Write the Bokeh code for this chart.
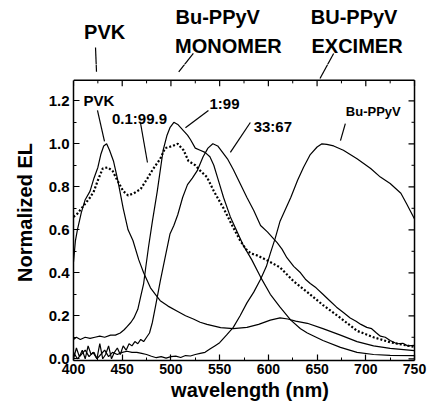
from bokeh.plotting import figure
from bokeh.layouts import column
from bokeh.models import (Range1d, FixedTicker, PrintfTickFormatter, Label, Arrow)
from bokeh.core.properties import value
from bokeh.embed import file_html
from bokeh.resources import INLINE

# ---- data (wavelength in nm, normalized EL) ----
pvk_wl = [400, 402, 404, 408, 412, 417, 421, 425, 428, 431, 434, 437, 441, 445, 448, 451, 456, 461,
          467, 472, 479, 484, 489, 497, 507, 515, 523, 530, 537, 551, 564, 578, 590, 602, 612, 620,
          628, 640, 656, 674, 691, 708, 725, 750]
pvk_el = [0.45, 0.55, 0.60, 0.68, 0.74, 0.78, 0.84, 0.89, 0.95, 0.99, 1.0, 0.97, 0.92, 0.84, 0.77,
          0.70, 0.60, 0.55, 0.46, 0.40, 0.33, 0.30, 0.27, 0.245, 0.22, 0.20, 0.185, 0.17, 0.16, 0.145,
          0.14, 0.146, 0.16, 0.18, 0.19, 0.185, 0.175, 0.165, 0.14, 0.11, 0.08, 0.06, 0.048, 0.038]

d_wl = [400, 404, 410, 417, 421, 425, 430, 435, 440, 445, 451, 456, 462, 469, 476, 482, 489, 494,
        502, 507, 513, 518, 525, 530, 537, 544, 554, 564, 571, 577, 582, 589, 599, 612, 626, 640,
        656, 674, 691, 708, 725, 750]
d_el = [0.66, 0.675, 0.71, 0.75, 0.78, 0.83, 0.885, 0.89, 0.875, 0.83, 0.78, 0.76, 0.77, 0.79, 0.84,
        0.885, 0.93, 0.98, 0.99, 1.0, 0.97, 0.92, 0.90, 0.875, 0.845, 0.78, 0.70, 0.61, 0.55, 0.51,
        0.49, 0.48, 0.457, 0.425, 0.36, 0.31, 0.25, 0.19, 0.13, 0.10, 0.077, 0.055]

o_wl = [400, 403, 407, 412, 417, 422, 427, 432, 438, 443, 448, 452, 455, 459, 462, 466, 469, 472,
        474, 477, 481, 486, 492, 496, 499, 503, 507, 510, 513, 517, 520, 525, 530, 535, 540, 544,
        548, 554, 561, 567, 574, 583, 592, 602, 612, 623, 633, 640, 656, 674, 691, 708, 725, 750]
o_el = [0.09, 0.10, 0.09, 0.10, 0.095, 0.10, 0.105, 0.10, 0.11, 0.11, 0.12, 0.135, 0.15, 0.17, 0.19,
        0.23, 0.29, 0.35, 0.42, 0.52, 0.64, 0.78, 0.97, 1.04, 1.075, 1.10, 1.09, 1.075, 1.06, 1.04,
        1.02, 0.98, 0.97, 0.96, 0.94, 0.90, 0.84, 0.75, 0.66, 0.60, 0.53, 0.46, 0.38, 0.30, 0.24,
        0.18, 0.14, 0.12, 0.085, 0.053, 0.03, 0.02, 0.016, 0.015]

t_wl = [400, 403, 406, 409, 412, 415, 418, 421, 424, 427, 430, 433, 436, 439, 442, 445, 448, 451,
        454, 457, 460, 463, 466, 469, 472, 475, 478, 481, 484, 489, 494, 499, 503, 507, 512, 517,
        522, 527, 533, 538, 543, 548, 553, 558, 564, 571, 578, 585, 592, 599, 605, 609, 614, 619,
        626, 633, 638, 643, 649, 656, 663, 670, 677, 684, 690, 695, 701, 706, 711, 715, 720, 725,
        732, 738, 743, 750]
t_el = [0.0, 0.05, 0.01, 0.04, 0.0, 0.06, 0.02, 0.03, 0.0, 0.07, 0.0, 0.02, 0.06, 0.0, 0.03, 0.05,
        0.02, 0.06, 0.04, 0.07, 0.06, 0.08, 0.07, 0.09, 0.08, 0.10, 0.12, 0.17, 0.24, 0.36, 0.47,
        0.58, 0.62, 0.67, 0.75, 0.81, 0.84, 0.875, 0.94, 0.98, 1.0, 0.99, 0.96, 0.93, 0.88, 0.815,
        0.75, 0.69, 0.62, 0.59, 0.56, 0.54, 0.51, 0.47, 0.43, 0.40, 0.37, 0.35, 0.33, 0.30, 0.27,
        0.24, 0.215, 0.19, 0.175, 0.16, 0.146, 0.14, 0.12, 0.105, 0.10, 0.085, 0.07, 0.072, 0.06,
        0.062]

b_wl = [400, 404, 408, 412, 416, 420, 424, 428, 432, 436, 440, 445, 450, 455, 460, 465, 470, 475,
        480, 485, 490, 495, 500, 505, 510, 515, 520, 525, 530, 535, 540, 545, 550, 557, 564, 571,
        578, 585, 592, 598, 602, 607, 612, 618, 623, 630, 636, 643, 650, 655, 660, 667, 677, 691,
        705, 715, 725, 736, 742, 750]
b_el = [0.03, 0.0, 0.02, 0.04, 0.01, 0.03, 0.0, 0.02, 0.04, 0.01, 0.03, 0.02, 0.03, 0.035, 0.03,
        0.03, 0.025, 0.02, 0.012, 0.005, 0.01, 0.003, 0.01, 0.012, 0.006, 0.015, 0.013, 0.02, 0.025,
        0.03, 0.045, 0.06, 0.075, 0.11, 0.146, 0.20, 0.26, 0.31, 0.37, 0.43, 0.49, 0.56, 0.64, 0.70,
        0.75, 0.83, 0.89, 0.95, 0.985, 1.0, 0.997, 0.99, 0.97, 0.93, 0.885, 0.845, 0.815, 0.77,
        0.72, 0.65]

# ticks
x_major = [400, 450, 500, 550, 600, 650, 700, 750]
x_minor = [425, 475, 525, 575, 625, 675, 725]
y_major = [0.0, 0.2, 0.4, 0.6, 0.8, 1.0, 1.2]
y_minor = [0.1, 0.3, 0.5, 0.7, 0.9, 1.1]

# inner labels: (text, x, y, pointer x0, y0, x1, y1)
inner_labels = [
    ("PVK", 426, 1.202, 424.6, 1.155, 431.8, 1.011),
    ("0.1:99.9", 467.7, 1.117, 468.7, 1.099, 475.9, 0.913),
    ("1:99", 555, 1.187, 538.5, 1.155, 514.9, 1.075),
    ("33:67", 604.6, 1.08, 581.5, 1.099, 561, 0.96),
]
bu_label = ("Bu-PPyV", 707.7, 1.15, 679, 1.094, 674, 1.015)

# peak assignment labels above the graph
top_texts = ["PVK", "Bu-PPyV", "MONOMER", "BU-PPyV", "EXCIMER"]
top_x = [432, 548, 559, 688, 691]
top_y = [1.518, 1.59, 1.457, 1.59, 1.457]
top_ptr_x0 = [422.6, 523, 667]
top_ptr_y0 = [1.448, 1.42, 1.42]
top_ptr_x1 = [423.6, 508, 653]
top_ptr_y1 = [1.335, 1.335, 1.304]

FONT = "Liberation Sans"
X0, X1 = 400, 750          # plot box
Y0, Y1 = -0.008, 1.295
XV = 762.3                 # visible extent to the right of the box
YS = 1.3688                # split between the two stacked canvases
YT = 1.6665                # top of the page

# ---- top strip with the peak assignments ----
top_fig = figure(width=429, height=64, x_range=Range1d(X0, XV), y_range=Range1d(YS, YT),
                 output_backend="svg", toolbar_location=None, x_axis_type=None, y_axis_type=None,
                 min_border_left=73, min_border_right=3, min_border_top=0, min_border_bottom=0)
top_fig.outline_line_color = None
top_fig.xgrid.visible = False
top_fig.ygrid.visible = False
top_fig.background_fill_color = None
top_fig.border_fill_color = None
top_fig.text(top_x, top_y, text=top_texts, text_font=value(FONT), text_font_size="20px",
             text_font_style="bold", text_align="center", text_baseline="middle", text_color="black")
top_fig.segment(top_ptr_x0, top_ptr_y0, top_ptr_x1, top_ptr_y1, line_color="black", line_width=1.2)

# ---- main plot ----
p = figure(width=429, height=345, x_range=Range1d(X0, XV), y_range=Range1d(Y0, YS),
           output_backend="svg", toolbar_location=None,
           min_border_left=73, min_border_right=3, min_border_top=0, min_border_bottom=49)
p.xgrid.visible = False
p.ygrid.visible = False
p.outline_line_color = None
p.background_fill_color = None
p.border_fill_color = None

for ax, ticks, minor, size, bnds in ((p.xaxis[0], x_major, x_minor, "14px", (X0, X1)),
                                     (p.yaxis[0], y_major, y_minor, "15px", (Y0, Y1))):
    ax.ticker = FixedTicker(ticks=ticks, minor_ticks=minor)
    ax.bounds = bnds
    ax.axis_line_width = 1.5
    ax.axis_line_color = "black"
    ax.major_tick_in = 6
    ax.major_tick_out = 0
    ax.minor_tick_in = 3
    ax.minor_tick_out = 0
    ax.major_tick_line_width = 1.2
    ax.minor_tick_line_width = 1.0
    ax.major_label_text_font = FONT
    ax.major_label_text_font_style = "bold"
    ax.major_label_text_color = "black"
    ax.major_label_text_font_size = size
    ax.axis_label_text_font = FONT
    ax.axis_label_text_font_style = "bold"
    ax.axis_label_text_font_size = "20px"
    ax.axis_label_text_color = "black"
p.yaxis.formatter = PrintfTickFormatter(format="%.1f")
p.xaxis.major_label_standoff = 3
p.yaxis.major_label_standoff = 4
p.xaxis.axis_label = "wavelength (nm)"
p.yaxis.axis_label = "Normalized EL"
p.xaxis.axis_label_standoff = 2
p.yaxis.axis_label_standoff = 10

def add_rule(x0, y0, x1, y1, w=1.2):
    p.add_layout(Arrow(end=None, x_start=x0, y_start=y0, x_end=x1, y_end=y1,
                       line_color="black", line_width=w))

# top and right edges of the box with inward ticks (mirror of bottom/left axes)
px_per_nm = 0.9743
px_per_unit = 215.0
add_rule(X0, Y1, X1, Y1, 1.5)
add_rule(X1, Y0, X1, Y1, 1.5)
for xt in x_major:
    add_rule(xt, Y1, xt, Y1 - 6 / px_per_unit, 1.2)
for xt in x_minor:
    add_rule(xt, Y1, xt, Y1 - 3 / px_per_unit, 1.0)
for yt in y_major:
    add_rule(X1, yt, X1 - 6 / px_per_nm, yt, 1.2)
for yt in y_minor:
    add_rule(X1, yt, X1 - 3 / px_per_nm, yt, 1.0)

# lower part of the pointers of the labels above the box
for x0, y0, x1, y1 in zip(top_ptr_x0, top_ptr_y0, top_ptr_x1, top_ptr_y1):
    add_rule(x0, y0, x1, y1, 1.2)

lw = 1.2
p.line(pvk_wl, pvk_el, line_color="black", line_width=lw)
p.line(o_wl, o_el, line_color="black", line_width=lw)
p.line(t_wl, t_el, line_color="black", line_width=lw)
p.line(b_wl, b_el, line_color="black", line_width=lw)
p.line(d_wl, d_el, line_color="black", line_width=2.2, line_dash="2 2")

def add_label(text, x, y, size, style="bold"):
    p.add_layout(Label(x=x, y=y, text=text, text_font=FONT, text_font_size=size,
                       text_font_style=style, text_align="center", text_baseline="middle",
                       text_color="black"))

for (t, x, y, x0, y0, x1, y1) in inner_labels:
    add_label(t, x, y, "15px")
    add_rule(x0, y0, x1, y1, 1.2)
t, x, y, x0, y0, x1, y1 = bu_label
add_label(t, x, y, "13px")
add_rule(x0, y0, x1, y1, 1.2)

layout = column(top_fig, p, spacing=0)
open("out.html", "w").write(file_html(layout, INLINE))
